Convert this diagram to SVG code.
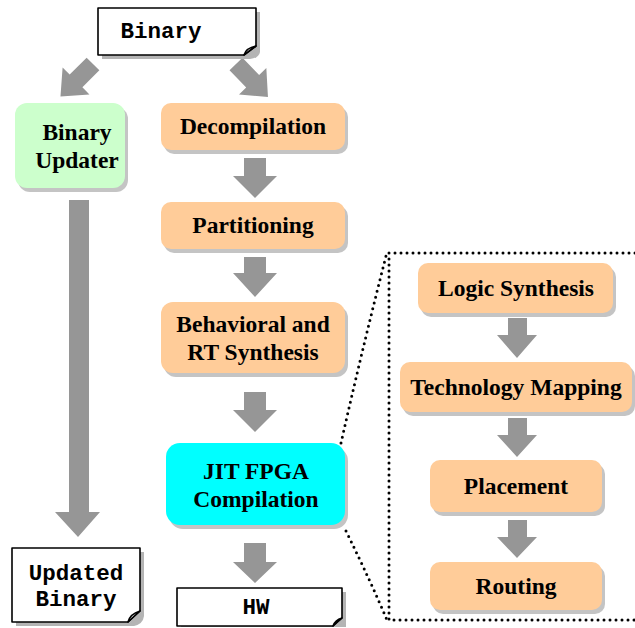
<svg xmlns="http://www.w3.org/2000/svg" width="635" height="628" viewBox="0 0 635 628">
  <style>
    .box { stroke: none; }
    .shadow { fill: #c4c4c4; }
    .orange { fill: #ffcc99; }
    .green { fill: #ccffcc; }
    .cyan { fill: #00ffff; }
    .label { font-family: "Liberation Serif", "Times New Roman", serif; font-weight: bold; font-size: 23.5px; fill: #000; text-anchor: middle; }
    .mono { font-family: "Liberation Mono", "Courier New", monospace; font-weight: bold; font-size: 22.5px; fill: #000; text-anchor: middle; }
    .doc { fill: #fff; stroke: #000; stroke-width: 1.6; stroke-linejoin: round; }
    .docshadow { fill: #b4b4b4; }
    .arrow { fill: #969696; }
    .dots { fill: none; stroke: #000; stroke-width: 3; stroke-linecap: round; stroke-dasharray: 0 6; }
  </style>

  <!-- connectors: block arrows and the dotted expansion outline -->
  <g id="connectors">
    <!-- Binary -> Binary Updater -->
    <path class="arrow" transform="translate(93,64) rotate(45)" d="M-9,0 H9 V24 H19 L0,46 L-19,24 H-9 Z"/>
    <!-- Binary -> Decompilation -->
    <path class="arrow" transform="translate(236,64) rotate(-44)" d="M-9,0 H9 V24 H19 L0,46 L-19,24 H-9 Z"/>
    <!-- Binary Updater -> Updated Binary -->
    <path class="arrow" d="M69,200 H89 V512 H100 L78,537 L55,512 H69 Z"/>
    <!-- main column -->
    <path class="arrow" d="M244,158 H266 V176 H277 L255,198 L233,176 H244 Z"/>
    <path class="arrow" d="M244,257 H266 V273 H277 L255,297 L233,273 H244 Z"/>
    <path class="arrow" d="M244,392 H266 V410 H277 L255,432 L233,410 H244 Z"/>
    <path class="arrow" d="M244,543 H266 V562 H277 L255,583 L233,562 H244 Z"/>
    <!-- expanded flow -->
    <path class="arrow" d="M508,318 H527 V335 H537 L517,358 L497,335 H508 Z"/>
    <path class="arrow" d="M508,418 H527 V435 H537 L517,457 L497,435 H508 Z"/>
    <path class="arrow" d="M508,520 H527 V537 H537 L517,558 L497,537 H508 Z"/>
    <!-- dotted outline of the expanded JIT compilation -->
    <path class="dots" d="M389,253 H640 M389,253 V620 H640"/>
    <path class="dots" d="M341,443 Q362,350 386,256"/>
    <path class="dots" d="M346,531 Q370,580 387,620"/>
  </g>

  <!-- Binary (document) -->
  <g id="binary">
    <path class="docshadow" d="M102,12 H260 V52 Q259,58 250,59 H102 Z"/>
    <path class="doc" d="M98,8 H256 V46 L244,55 H98 Z"/>
    <path class="doc" d="M244,55 Q246,48 256,46 Q249,51 244,55 Z"/>
    <text class="mono" x="161" y="38">Binary</text>
  </g>

  <!-- Binary Updater -->
  <g id="binary-updater">
    <rect class="shadow" x="18" y="107" width="110" height="85" rx="12"/>
    <rect class="green" x="15" y="103" width="110" height="85" rx="12"/>
    <text class="label" x="77" y="140">Binary</text>
    <text class="label" x="77" y="168">Updater</text>
  </g>

  <!-- Decompilation -->
  <g id="decompilation">
    <rect class="shadow" x="164" y="107" width="184" height="47" rx="10"/>
    <rect class="orange" x="161" y="103" width="184" height="47" rx="10"/>
    <text class="label" x="253" y="134">Decompilation</text>
  </g>

  <!-- Partitioning -->
  <g id="partitioning">
    <rect class="shadow" x="164" y="206" width="184" height="47" rx="10"/>
    <rect class="orange" x="161" y="202" width="184" height="47" rx="10"/>
    <text class="label" x="253" y="233">Partitioning</text>
  </g>

  <!-- Behavioral and RT Synthesis -->
  <g id="behavioral">
    <rect class="shadow" x="164" y="306" width="184" height="71" rx="12"/>
    <rect class="orange" x="161" y="302" width="184" height="71" rx="12"/>
    <text class="label" x="253" y="332">Behavioral and</text>
    <text class="label" x="253" y="360">RT Synthesis</text>
  </g>

  <!-- JIT FPGA Compilation -->
  <g id="jit-fpga">
    <rect class="shadow" x="169" y="447" width="179" height="82" rx="14"/>
    <rect class="cyan" x="166" y="443" width="179" height="82" rx="14"/>
    <text class="label" x="256" y="479">JIT FPGA</text>
    <text class="label" x="256" y="507">Compilation</text>
  </g>

  <!-- HW (document) -->
  <g id="hw">
    <path class="docshadow" d="M181,592 H346 V627 H181 Z"/>
    <path class="doc" d="M177,588 H342 V618 L333,626 H177 Z"/>
    <path class="doc" d="M333,626 Q335,620 342,618 Q337,622 333,626 Z"/>
    <text class="mono" x="256" y="614">HW</text>
  </g>

  <!-- Updated Binary (document) -->
  <g id="updated-binary">
    <path class="docshadow" d="M16,552 H144 V616 Q143,624 134,626 H16 Z"/>
    <path class="doc" d="M12,548 H140 V611 L128,622 H12 Z"/>
    <path class="doc" d="M128,622 Q130,614 140,611 Q133,617 128,622 Z"/>
    <text class="mono" x="76" y="580">Updated</text>
    <text class="mono" x="76" y="606">Binary</text>
  </g>

  <!-- Logic Synthesis -->
  <g id="logic-synthesis">
    <rect class="shadow" x="421" y="267" width="195" height="50" rx="10"/>
    <rect class="orange" x="418" y="263" width="195" height="50" rx="10"/>
    <text class="label" x="516" y="296">Logic Synthesis</text>
  </g>

  <!-- Technology Mapping -->
  <g id="technology-mapping">
    <rect class="shadow" x="403" y="366" width="232" height="50" rx="10"/>
    <rect class="orange" x="400" y="362" width="232" height="50" rx="10"/>
    <text class="label" x="516" y="395">Technology Mapping</text>
  </g>

  <!-- Placement -->
  <g id="placement">
    <rect class="shadow" x="433" y="464" width="172" height="52" rx="10"/>
    <rect class="orange" x="430" y="460" width="172" height="52" rx="10"/>
    <text class="label" x="516" y="494">Placement</text>
  </g>

  <!-- Routing -->
  <g id="routing">
    <rect class="shadow" x="433" y="566" width="172" height="48" rx="10"/>
    <rect class="orange" x="430" y="562" width="172" height="48" rx="10"/>
    <text class="label" x="516" y="594">Routing</text>
  </g>
</svg>
